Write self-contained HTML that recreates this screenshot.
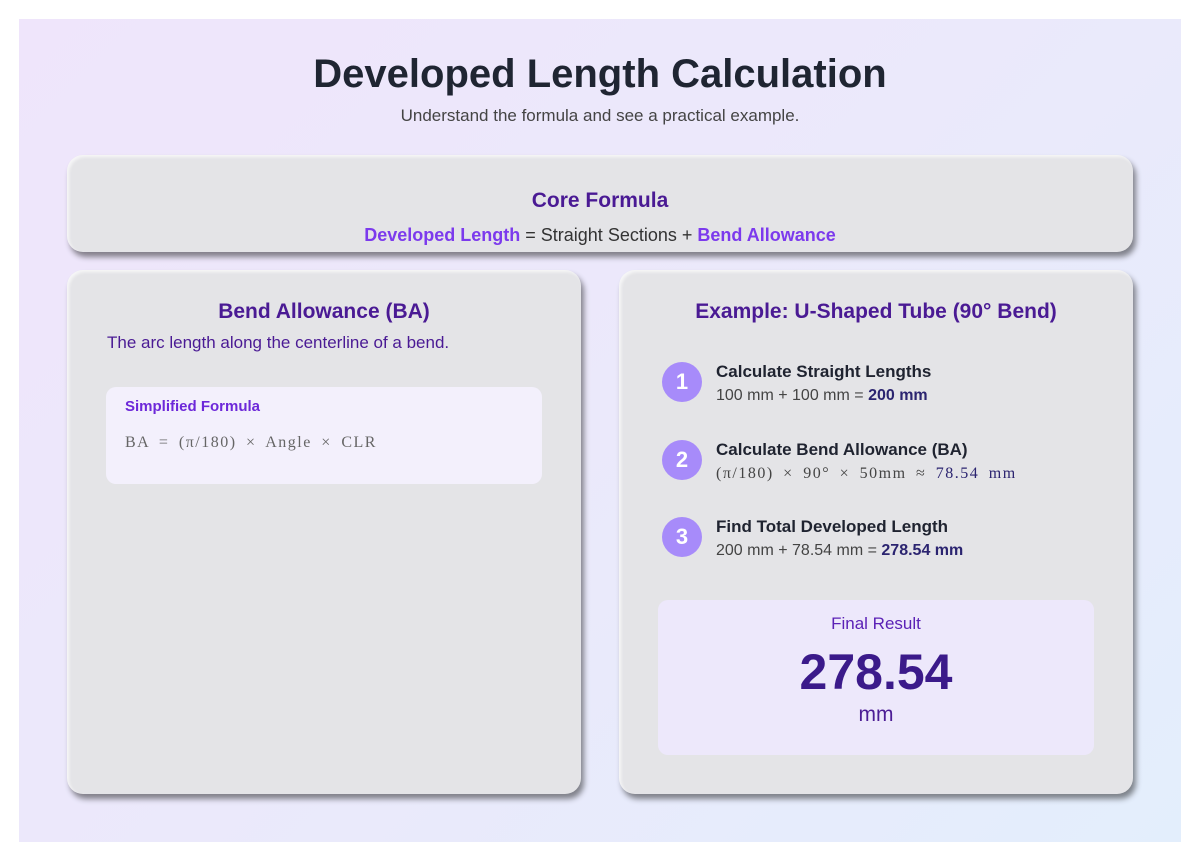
<!DOCTYPE html>
<html><head><meta charset="utf-8"><style>
*{margin:0;padding:0;box-sizing:border-box}
body{width:1200px;height:861px;background:#fff;font-family:"Liberation Sans",sans-serif;position:relative;overflow:hidden}
.bg{position:absolute;left:19px;top:19px;width:1162px;height:823px;background:linear-gradient(135deg,#efe5fb 0%,#ebe9fb 50%,#e3eefc 100%)}
.card{position:absolute;background:#e4e4e7;border-radius:16px;box-shadow:3px 5px 6px rgba(0,0,0,.45),inset 2px 2px 3px rgba(255,255,255,.7)}
.c{text-align:center;position:absolute;left:0;right:0}
.t{color:#4a1a94;font-weight:bold}
.p{color:#7c3aed;font-weight:bold}
.step{position:absolute;left:43px}
.num{position:absolute;left:0;width:40px;height:40px;border-radius:50%;background:#a78bfa;color:#fff;font-weight:bold;font-size:22px;text-align:center;line-height:40px}
.st{position:absolute;left:54px;white-space:nowrap}
.st b.h{display:block;color:#1f2330;font-size:17px;margin-bottom:5px}
.st span{color:#444;font-size:16px}
.st span b{color:#2b2470}
.mono{font-family:"Liberation Serif","Noto Serif CJK SC",serif;color:#666;font-size:15px;letter-spacing:1.5px;word-spacing:4px}
</style></head><body>
<div class="bg"></div>
<div class="c" style="top:52px;font-size:40px;font-weight:bold;color:#1f2532">Developed Length Calculation</div>
<div class="c" style="top:106px;font-size:17px;color:#444">Understand the formula and see a practical example.</div>

<div class="card" style="left:67px;top:155px;width:1066px;height:97px">
 <div class="c t" style="top:34px;font-size:21px">Core Formula</div>
 <div class="c" style="top:70px;font-size:18px;color:#333"><span class="p">Developed Length</span> = Straight Sections + <span class="p">Bend Allowance</span></div>
</div>

<div class="card" style="left:67px;top:270px;width:514px;height:524px">
 <div class="c t" style="top:30px;font-size:21px">Bend Allowance (BA)</div>
 <div style="position:absolute;left:40px;top:63px;font-size:17px;color:#4a1a94">The arc length along the centerline of a bend.</div>
 <div style="position:absolute;left:39px;top:117px;width:436px;height:97px;background:#f3f0fc;border-radius:10px">
  <div style="position:absolute;left:19px;top:11px;font-size:15px;font-weight:bold;color:#6d28d9">Simplified Formula</div>
  <div class="mono" style="position:absolute;left:19px;top:47px;font-size:16px">BA = (π/180) × Angle × CLR</div>
 </div>
</div>

<div class="card" style="left:619px;top:270px;width:514px;height:524px">
 <div class="c t" style="top:30px;font-size:21px">Example: U-Shaped Tube (90° Bend)</div>
 <div class="step" style="top:92px"><div class="num">1</div><div class="st" style="top:0px"><b class="h">Calculate Straight Lengths</b><span>100 mm + 100 mm = <b>200 mm</b></span></div></div>
 <div class="step" style="top:170px"><div class="num">2</div><div class="st" style="top:0px"><b class="h">Calculate Bend Allowance (BA)</b><span class="mono">(π/180) × 90° × 50mm ≈ <b style="color:#2b2470;font-weight:normal">78.54 mm</b></span></div></div>
 <div class="step" style="top:247px"><div class="num">3</div><div class="st" style="top:0px"><b class="h">Find Total Developed Length</b><span>200 mm + 78.54 mm = <b>278.54 mm</b></span></div></div>
 <div style="position:absolute;left:39px;top:330px;width:436px;height:155px;background:#ede8fb;border-radius:10px">
  <div class="c" style="top:14px;font-size:17px;color:#5b21b6">Final Result</div>
  <div class="c" style="top:43px;font-size:50px;font-weight:bold;color:#3b1a8a">278.54</div>
  <div class="c" style="top:103px;font-size:21px;color:#4c1d95">mm</div>
 </div>
</div>
</body></html>
